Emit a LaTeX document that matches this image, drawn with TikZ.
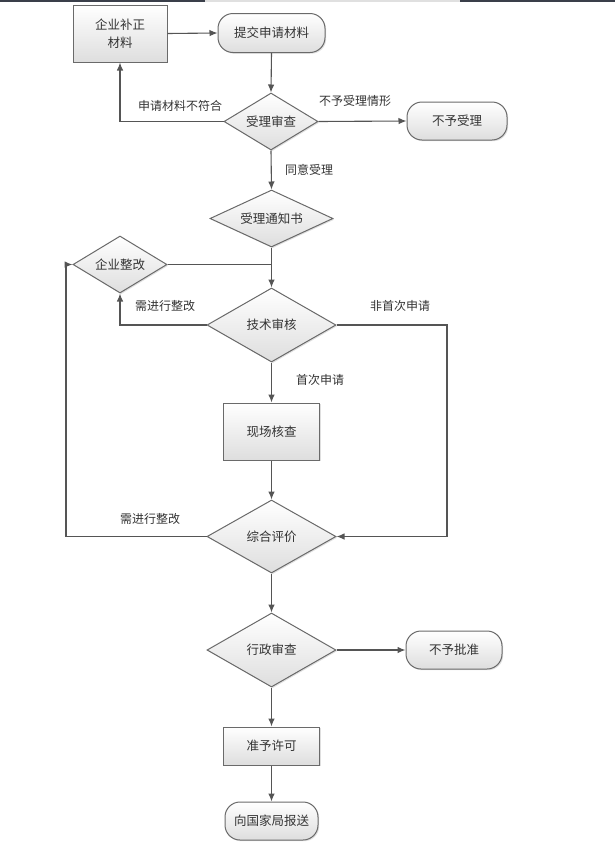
\documentclass[tikz,border=0pt]{standalone}
\usepackage{fontspec}
\setmainfont{Noto Sans CJK SC}
\usetikzlibrary{shapes.geometric,arrows.meta,shadows,calc}
\definecolor{linec}{HTML}{555555}
\definecolor{txtc}{HTML}{333333}
\definecolor{bordc}{HTML}{6A6A6A}
\definecolor{barc}{HTML}{3A3F4A}
\tikzset{
  base/.style={draw=bordc, line width=1pt, top color=white, bottom color=black!13,
    text=txtc, font=\fontsize{12.5}{15}\selectfont, inner sep=0pt, align=center,
    drop shadow={shadow xshift=1.2pt, shadow yshift=-1.2pt, opacity=0.25}},
  procbox/.style={base, rectangle},
  pill/.style={base, rectangle, rounded corners=15pt},
  decision/.style={base, diamond, aspect=2},
  lbl/.style={text=txtc, font=\fontsize{12}{14}\selectfont, inner sep=0pt},
  conn/.style={draw=linec, line width=1.1pt},
  arr/.style={conn, -{Latex[length=8pt,width=6.5pt]}},
}
\begin{document}
\begin{tikzpicture}[x=1pt,y=-1pt]
\useasboundingbox (0,0) rectangle (615,849);
\fill[white] (0,0) rectangle (615,849);
% top strip
\fill[black!12] (205,0) rectangle (460,1.5);
\fill[barc] (0,0) rectangle (205,1.5);
\fill[barc] (460,0) rectangle (615,1.5);

% nodes
\node[procbox, minimum width=94pt, minimum height=57pt] (bz) at (120,33.5) {企业补正\\[3pt]材料};
\node[pill, minimum width=107pt, minimum height=39pt] (tj) at (271.5,33) {提交申请材料};
\node[decision, minimum width=94pt, minimum height=57pt] (sl) at (271,121.5) {受理审查};
\node[pill, minimum width=100pt, minimum height=38pt] (bysl) at (457,121) {不予受理};
\node[decision, minimum width=123pt, minimum height=57pt] (tz) at (271.5,218.5) {受理通知书};
\node[decision, minimum width=94pt, minimum height=57pt] (zg) at (120,264.5) {企业整改};
\node[decision, minimum width=129pt, minimum height=74pt] (js) at (271.5,325) {技术审核};
\node[procbox, minimum width=96pt, minimum height=57pt] (xc) at (271.5,431.5) {现场核查};
\node[decision, minimum width=129pt, minimum height=73pt] (zh) at (271.5,536.5) {综合评价};
\node[decision, minimum width=129pt, minimum height=74pt] (xz) at (271.5,650) {行政审查};
\node[pill, minimum width=96pt, minimum height=38pt] (bypz) at (454,650) {不予批准};
\node[procbox, minimum width=96pt, minimum height=38pt] (zy) at (271.5,746) {准予许可};
\node[pill, minimum width=93pt, minimum height=38pt] (bs) at (271.5,821) {向国家局报送};

% labels
\node[lbl] (l1) at (180,106) {申请材料不符合};
\node[lbl] (l2) at (355,101) {不予受理情形};
\node[lbl] (l3) at (309,170) {同意受理};
\node[lbl] (l4) at (165,306) {需进行整改};
\node[lbl] (l5) at (400,306) {非首次申请};
\node[lbl] (l6) at (320,380) {首次申请};
\node[lbl] (l7) at (150,519) {需进行整改};

% helper coordinates
\coordinate (r) at (447,325);
\coordinate (l) at (66,536.5);

% connectors
\draw[arr] (bz.east) -- (tj.west);
\draw[arr] (tj.south) -- (sl.north);
\draw[arr] (sl.west) -| (bz.south);
\draw[arr] (sl.east) -- (bysl.west);
\draw[arr] (sl.south) -- (tz.north);
\draw[arr] (tz.south) -- (js.north);
\draw[conn] (zg.east) -- (zg.east -| js.north);
\draw[arr] (js.west) -| (zg.south);
\draw[arr] (js.east) -- (r) |- (zh.east);
\draw[arr] (js.south) -- (xc.north);
\draw[arr] (xc.south) -- (zh.north);
\draw[arr] (zh.west) -- (l) |- (zg.west);
\draw[arr] (zh.south) -- (xz.north);
\draw[arr] (xz.east) -- (bypz.west);
\draw[arr] (xz.south) -- (zy.north);
\draw[arr] (zy.south) -- (bs.north);
\end{tikzpicture}
\end{document}
